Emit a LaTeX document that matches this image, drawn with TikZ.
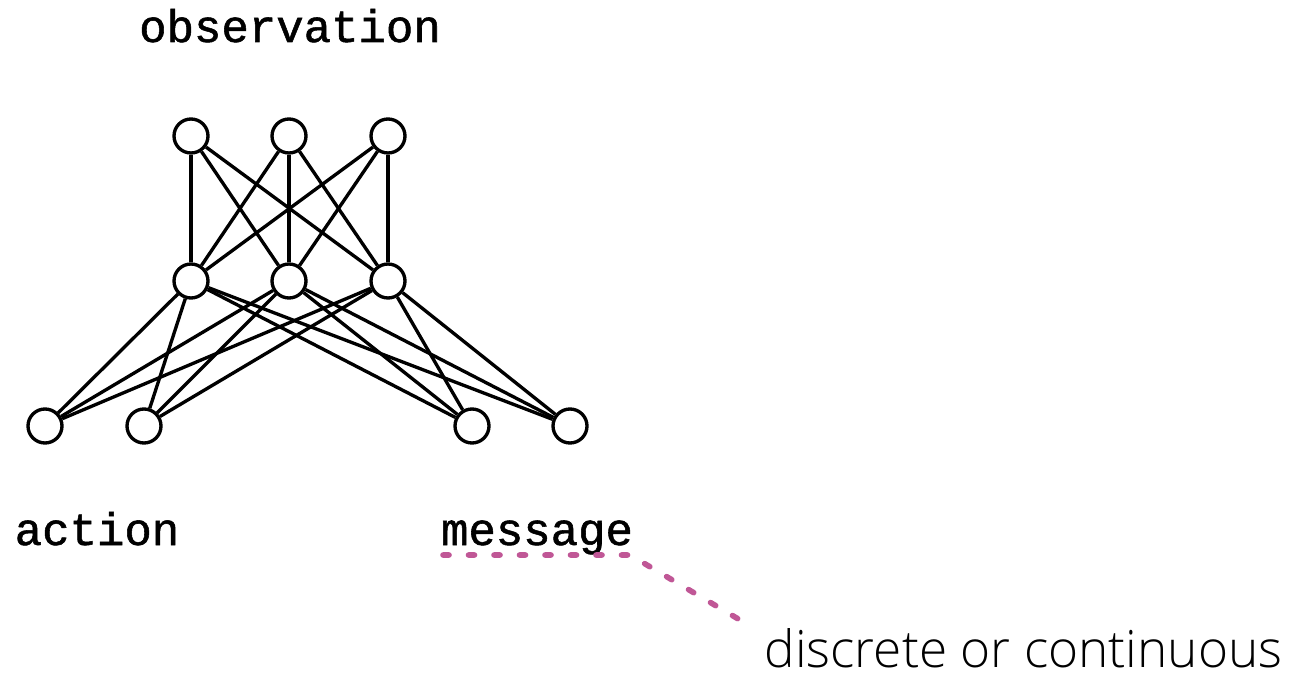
\documentclass[tikz,border=0pt]{standalone}
\usepackage{fontspec}
\newfontfamily\codefont{Liberation Mono}[UprightFeatures={FakeBold=1.2}]
\newfontfamily\thinfont{Open Sans Light}
\usetikzlibrary{positioning}

\definecolor{notecol}{RGB}{192,87,150}

\begin{document}
\begin{tikzpicture}[semithick]
    \tikzstyle{neuron}=[draw,circle,line width=1.9pt,inner sep=0pt,minimum size=0.68cm,fill=white]
    \tikzstyle{wire}=[line width=1.9pt]
    \tikzstyle{label}=[font=\fontsize{26}{30}\codefont,anchor=base]
    \useasboundingbox (0,0) rectangle (26.2,13.5);

    % layers
    \node[neuron] (o1) at (3.82,10.78) {};
    \node[neuron] (o2) at (5.78,10.78) {};
    \node[neuron] (o3) at (7.76,10.78) {};
    \node[neuron] (h1) at (3.82,7.88) {};
    \node[neuron] (h2) at (5.78,7.88) {};
    \node[neuron] (h3) at (7.76,7.88) {};
    \node[neuron] (a1) at (0.9,4.98) {};
    \node[neuron] (a2) at (2.88,4.98) {};
    \node[neuron] (m1) at (9.44,4.98) {};
    \node[neuron] (m2) at (11.4,4.98) {};

    \path[wire]
    (o1) edge (h1) edge (h2) edge (h3)
    (o2) edge (h1) edge (h2) edge (h3)
    (o3) edge (h1) edge (h2) edge (h3)
    (h1) edge (a1) edge (a2) edge (m1) edge (m2)
    (h2) edge (a1) edge (a2) edge (m1) edge (m2)
    (h3) edge (a1) edge (a2) edge (m1) edge (m2);

    \node[label] (obs) at (5.8,12.66) {observation};
    \node[label] (act) at (1.94,2.6) {action};
    \node[label] (msg) at (10.74,2.6) {message};

    % note on the message output
    \coordinate (n1) at (8.86,2.4);
    \coordinate (n2) at (12.6,2.4);
    \coordinate (n3) at (14.8,1.1);
    \draw[notecol,line width=3.2pt,line cap=round,dash pattern=on 0.12cm off 0.39cm] (n1) -- (n2) -- (n3);
    \node[font=\fontsize{29.2}{35}\thinfont,anchor=base west,inner sep=0pt,text depth=0pt] (kind) at (15.28,0.16) {discrete or continuous};
\end{tikzpicture}
\end{document}
